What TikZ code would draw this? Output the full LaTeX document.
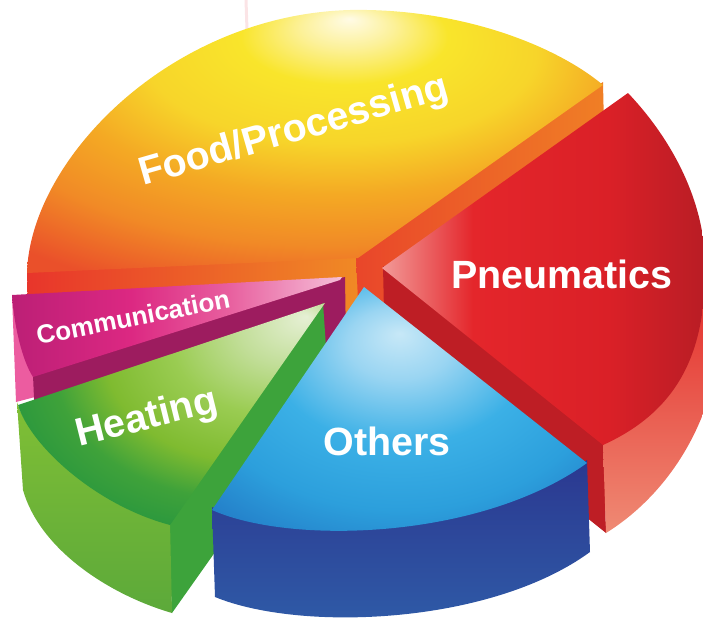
\documentclass[tikz,border=0pt]{standalone}
\usepackage{fontspec}
\setmainfont{Liberation Sans}
\usepackage{tikz}

\definecolor{foodA}{HTML}{FFFBE6}
\definecolor{foodB}{HTML}{FCF19A}
\definecolor{foodC}{HTML}{F9E52B}
\definecolor{foodD}{HTML}{F7D52A}
\definecolor{foodE}{HTML}{F4A924}
\definecolor{foodF}{HTML}{F18A26}
\definecolor{foodG}{HTML}{EA502A}
\definecolor{foodSideL}{HTML}{E8352B}
\definecolor{foodSideM}{HTML}{F08A25}
\definecolor{foodSideR}{HTML}{E9462A}
\definecolor{foodSideS}{HTML}{F07F25}
\definecolor{pneuA}{HTML}{F29A98}
\definecolor{pneuB}{HTML}{E4262B}
\definecolor{pneuC}{HTML}{DA2027}
\definecolor{pneuD}{HTML}{B81D25}
\definecolor{pneuCut}{HTML}{BE1E25}
\definecolor{pneuSideA}{HTML}{E4302D}
\definecolor{pneuSideB}{HTML}{EF8A74}
\definecolor{commA}{HTML}{BC1F76}
\definecolor{commB}{HTML}{DC2882}
\definecolor{commC}{HTML}{E8609F}
\definecolor{commD}{HTML}{F5BFD8}
\definecolor{commCut}{HTML}{9D1C5F}
\definecolor{commSide}{HTML}{EC5CA0}
\definecolor{heatA}{HTML}{E6F0D5}
\definecolor{heatB}{HTML}{C2DE99}
\definecolor{heatC}{HTML}{9ACC52}
\definecolor{heatD}{HTML}{7FBB30}
\definecolor{heatE}{HTML}{3FA23A}
\definecolor{heatF}{HTML}{23943F}
\definecolor{heatCut}{HTML}{3DA33B}
\definecolor{heatSideA}{HTML}{80BF35}
\definecolor{heatSideB}{HTML}{5CA93A}
\definecolor{othA}{HTML}{C7E8F7}
\definecolor{othB}{HTML}{9AD5F2}
\definecolor{othC}{HTML}{3BB0E6}
\definecolor{othD}{HTML}{2C9FDC}
\definecolor{othE}{HTML}{1F6DBE}
\definecolor{othF}{HTML}{1C5AA9}
\definecolor{othSideA}{HTML}{2B3890}
\definecolor{othSideB}{HTML}{2F5CA8}
\definecolor{faintPink}{HTML}{FBE4E6}

\pgfdeclareradialshading{foodtop}{\pgfpoint{3bp}{23bp}}{color(0bp)=(foodA); color(4bp)=(foodB); color(9bp)=(foodC); color(17bp)=(foodD); color(24bp)=(foodE); color(31bp)=(foodF); color(39bp)=(foodG); color(60bp)=(foodG)}
\pgfdeclarehorizontalshading{pneutop}{100bp}{color(0bp)=(pneuA); color(25bp)=(pneuA); color(39bp)=(pneuB); color(60bp)=(pneuC); color(75bp)=(pneuD); color(100bp)=(pneuD)}
\pgfdeclarehorizontalshading{commtop}{100bp}{color(0bp)=(commA); color(25bp)=(commA); color(43bp)=(commB); color(58bp)=(commC); color(75bp)=(commD); color(100bp)=(commD)}
\pgfdeclareradialshading{heattop}{\pgfpoint{22bp}{22bp}}{color(0bp)=(heatA); color(8bp)=(heatB); color(16bp)=(heatC); color(24bp)=(heatD); color(30bp)=(heatE); color(38bp)=(heatF); color(60bp)=(heatF)}
\pgfdeclareradialshading{otherstop}{\pgfpoint{0bp}{16bp}}{color(0bp)=(othA); color(7bp)=(othB); color(17bp)=(othC); color(27bp)=(othD); color(40bp)=(othE); color(60bp)=(othF)}

\tikzstyle{pie chart}=[x=0.5pt, y=-0.5pt, line join=round]
\tikzstyle{slice label}=[text=white, inner sep=0pt,
    font=\bfseries\fontsize{19.7}{22}\selectfont]
\tikzstyle{small slice label}=[slice label,
    font=\bfseries\fontsize{13}{15}\selectfont]
\tikzstyle{faint mark}=[draw=faintPink, line width=1.5pt]

\begin{document}
\begin{tikzpicture}[pie chart]
    \clip (0,0) rectangle (703,621);

    \draw[faint mark] (246,0) -- (247,30);

    \shade[left color=foodSideL, right color=foodSideM]
        (27,270) -- (358,255) -- (360,346) -- (29,361) -- cycle;
    \shade[left color=foodSideR, right color=foodSideS]
        (356,256) -- (603,82) -- (605,173) -- (360,346) -- cycle;
    \shade[shading=foodtop]
        (27,273) .. controls (30,160) and (170,15) .. (350,10)
        .. controls (460,8) and (555,45) .. (603,85) -- (358,258) -- cycle;

    \fill[pneuCut]
        (383,266) -- (604,443) -- (606,533) -- (385,356) -- cycle;
    \shade[top color=pneuSideA, bottom color=pneuSideB]
        (603,445) -- (606,533) .. controls (640,512) and (685,470) .. (708,400)
        -- (708,290) -- cycle;
    \shade[shading=pneutop]
        (382,268) -- (628,93) .. controls (668,135) and (703,195) .. (705,260)
        .. controls (707,350) and (680,410) .. (603,445) -- cycle;

    \fill[commSide]
        (12,295) -- (20,300) -- (36,380) -- (35,397) -- (16,402) -- cycle;
    \fill[commCut]
        (33,375) -- (340,278) -- (345,277) -- (346,345) -- (36,445) -- cycle;
    \shade[shading=commtop]
        (12,295) -- (342,277) -- (340,280) -- (33,377)
        .. controls (22,360) and (14,325) .. (12,295) -- cycle;

    \fill[heatCut]
        (323,303) -- (168,525) -- (172,613) -- (329,391) -- cycle;
    \shade[top color=heatSideA, bottom color=heatSideB]
        (17,402) .. controls (29,443) and (94,503) .. (170,522)
        -- (172,613) .. controls (110,595) and (40,550) .. (23,490) -- cycle;
    \shade[shading=heattop]
        (325,303) -- (18,405) .. controls (30,445) and (95,505) .. (170,525) -- cycle;

    \shade[top color=othSideA, bottom color=othSideB]
        (212,507) .. controls (290,542) and (480,537) .. (587,460)
        -- (590,552) .. controls (490,625) and (300,632) .. (215,597) -- cycle;
    \shade[shading=otherstop]
        (364,287) -- (212,510) .. controls (290,545) and (480,540) .. (587,463) -- cycle;

    \node[slice label, rotate=16] (food) at (294,132) {Food/Processing};
    \node[slice label] (pneumatics) at (562,274) {Pneumatics};
    \node[slice label] (others) at (387,441) {Others};
    \node[slice label, rotate=14] (heating) at (147,419) {Heating};
    \node[small slice label, rotate=11] (communication) at (133,317) {Communication};
\end{tikzpicture}
\end{document}
